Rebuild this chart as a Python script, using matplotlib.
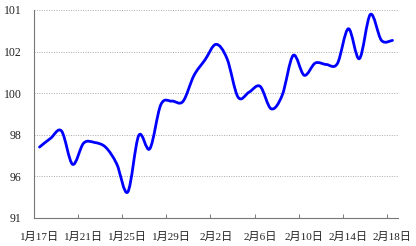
import numpy as np
import matplotlib
matplotlib.use("Agg")
from matplotlib import pyplot as plt
from matplotlib.path import Path
from matplotlib.patches import PathPatch

# daily values, 1月17日 .. 2月18日
values = [97.41, 97.83, 98.18, 96.58, 97.6, 97.63, 97.4, 96.6, 95.25, 97.97,
          97.33, 99.45, 99.62, 99.6, 100.85, 101.6, 102.35, 101.66, 99.81, 100.05,
          100.33, 99.25, 99.9, 101.82, 100.86, 101.45, 101.38, 101.42, 103.1, 101.66,
          103.79, 102.54, 102.54]
x_labels = ['1月17日', '1月21日', '1月25日', '1月29日', '2月2日',
            '2月6日', '2月10日', '2月14日', '2月18日']
y_ticks = [94, 96, 98, 100, 102, 104]
y_labels = ['91', '96', '98', '100', '102', '101']

fam = ['Liberation Serif', 'Noto Sans CJK SC']

fig = plt.figure(figsize=(4.16, 2.46), dpi=100)
ax = fig.add_axes([34 / 416, 1 - 218 / 246, 364 / 416, 208 / 246])

# smoothed line: catmull-rom segments as cubic beziers
x = np.arange(len(values), dtype=float)
y = np.array(values)
verts = [(x[0], y[0])]
codes = [Path.MOVETO]
for i in range(len(x) - 1):
    p0 = np.array([x[max(i - 1, 0)], y[max(i - 1, 0)]])
    p1 = np.array([x[i], y[i]])
    p2 = np.array([x[i + 1], y[i + 1]])
    p3 = np.array([x[min(i + 2, len(x) - 1)], y[min(i + 2, len(x) - 1)]])
    c1 = p1 + (p2 - p0) / 6
    c2 = p2 - (p3 - p1) / 6
    verts += [tuple(c1), tuple(c2), tuple(p2)]
    codes += [Path.CURVE4] * 3
ax.add_patch(PathPatch(Path(verts, codes), facecolor='none', edgecolor='#0000ff',
                       lw=2.0, capstyle='round', joinstyle='round', zorder=3))

ax.set_xlim(-0.5, len(values) - 0.5)
ax.set_ylim(94, 104)

ax.set_yticks(y_ticks)
ax.set_yticklabels(y_labels, family=fam, fontsize=8.5, color='#222222')
ax.set_xticks(np.arange(0, len(values), 4))
ax.set_xticklabels(x_labels, family=fam, fontsize=8, color='#222222')
ax.set_xticks(np.arange(-0.5, len(values), 4), minor=True)
ax.tick_params(axis='x', which='major', length=0, pad=10)
ax.tick_params(axis='x', which='minor', direction='in', length=3, color='#666666')
ax.tick_params(axis='y', length=0, pad=9)

ax.grid(axis='y', linestyle=(0, (1, 1.5)), color='#aaaaaa', lw=0.7)
ax.set_axisbelow(True)
for s in ['top', 'right']:
    ax.spines[s].set_visible(False)
for s in ['left', 'bottom']:
    ax.spines[s].set_color('#777777')
    ax.spines[s].set_linewidth(0.8)

fig.savefig('out.png', dpi=100)
